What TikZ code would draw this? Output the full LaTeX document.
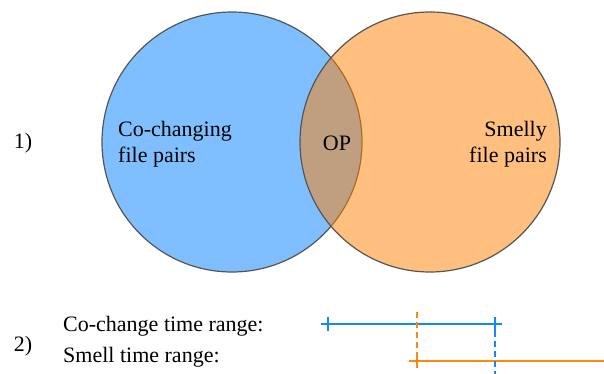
\documentclass[tikz,border=0pt]{standalone}
\usepackage{fontspec}
\setmainfont{Liberation Serif}
\newfontfamily\tnr{Liberation Serif}
\definecolor{cblue}{RGB}{0,128,255}
\definecolor{corange}{RGB}{255,128,0}
\definecolor{lblue}{RGB}{20,135,255}
\definecolor{lorange}{RGB}{255,135,20}
\definecolor{edgegray}{RGB}{85,85,85}
\begin{document}
\begin{tikzpicture}[x=1pt,y=-1pt,
  setc/.style={circle,minimum size=260pt,inner sep=0pt,draw=edgegray,line width=1.2pt,fill opacity=0.5},
  lbl/.style={font=\tnr\fontsize{22}{26}\selectfont,inner sep=0pt},
  tline/.style={line width=2pt},
  dline/.style={line width=2pt,dash pattern=on 6pt off 4pt}]
\useasboundingbox (0,0) rectangle (604,374);
\node[setc,fill=cblue] (A) at (232,142) {};
\node[setc,fill=corange] (B) at (430,142) {};
\node[lbl,align=left,anchor=west] (co) at (118,144) {Co-changing\\file pairs};
\node[lbl,align=right,anchor=east] (sm) at (547,144) {Smelly\\file pairs};
\node[lbl] (op) at (337,143) {OP};
\node[lbl] (one) at (23,143) {1)};
\node[lbl] (two) at (23,346) {2)};
\node[lbl,anchor=west] (cct) at (63,326) {Co-change time range:};
\node[lbl,anchor=west] (smt) at (63,357) {Smell time range:};
% co-change range
\coordinate (c0) at (321,324);
\coordinate (c1) at (502,324);
\coordinate (ct1a) at (328,317);
\coordinate (ct1b) at (328,331);
\coordinate (ct2a) at (495,317);
\coordinate (ct2b) at (495,331);
\coordinate (cd) at (495,374);
\draw[lblue,tline] (c0) -- (c1);
\draw[lblue,tline] (ct1a) -- (ct1b);
\draw[lblue,tline] (ct2a) -- (ct2b);
% smell range
\coordinate (s0) at (409,361);
\coordinate (s1) at (604,361);
\coordinate (st1a) at (417,354);
\coordinate (st1b) at (417,368);
\coordinate (sd) at (417,312);
\draw[lorange,tline] (s0) -- (s1);
\draw[lorange,tline] (st1a) -- (st1b);
\draw[lorange,dline] (sd) -- (st1a);
\draw[lblue,dline] (ct2b) -- (cd);
\end{tikzpicture}
\end{document}
